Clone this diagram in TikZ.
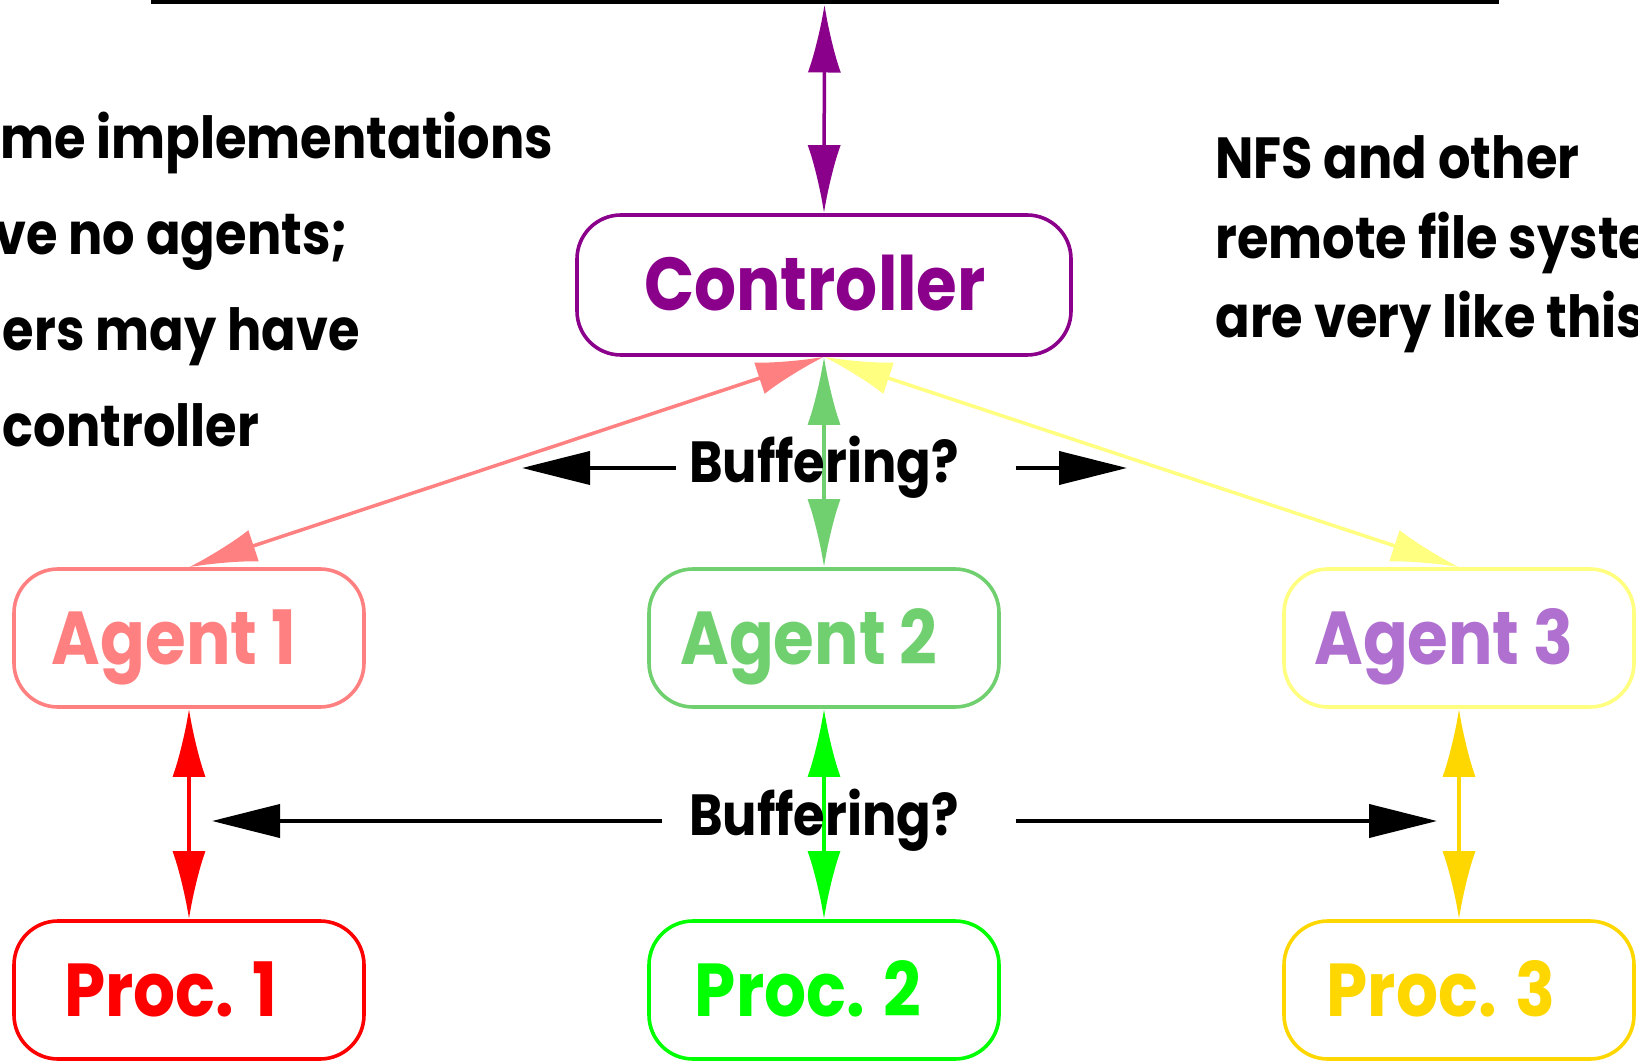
\documentclass[tikz,border=0pt]{standalone}
\usepackage{fontspec}
\setmainfont{Poppins}[FakeStretch=0.88]
\usetikzlibrary{arrows.meta}

\definecolor{ctrlpurple}{RGB}{139,0,139}
\definecolor{agentone}{RGB}{255,128,128}
\definecolor{agenttwo}{RGB}{112,208,112}
\definecolor{agentthreebox}{RGB}{255,255,128}
\definecolor{agentthreetext}{RGB}{176,112,208}
\definecolor{procone}{RGB}{255,0,0}
\definecolor{proctwo}{RGB}{0,255,0}
\definecolor{procthree}{RGB}{255,215,0}

\begin{document}
\begin{tikzpicture}[x=0.5pt,y=-0.5pt,
  labelfont/.style={font=\fontsize{37.5}{40}\selectfont\bfseries},
  sidefont/.style={font=\fontsize{29}{32}\selectfont\bfseries},
  roundbox/.style={draw, rounded corners=22pt, line width=1.8pt,
    minimum width=175pt, minimum height=69pt, inner sep=0pt,
    text height=26pt, text depth=0pt, labelfont},
  ctrlbox/.style={roundbox, minimum width=247pt, minimum height=70pt},
  twoway/.style={line width=1.75pt, {Latex[length=34pt,width=16.5pt]}-{Latex[length=34pt,width=16.5pt]}},
  oneway/.style={line width=1.75pt, -{Latex[length=34pt,width=16.5pt]}},
  blackarrow/.style={line width=2pt, -{Triangle[length=34pt,width=16.5pt]}},
  sidetext/.style={anchor=base west, inner sep=0pt, sidefont},
  buftext/.style={inner sep=0pt, sidefont, anchor=base}
]
\useasboundingbox (0,0) rectangle (1638,1063);

% shared store above the controller
\node[draw, line width=2pt, minimum width=672pt, minimum height=100pt, anchor=south]
  (store) at (824.5,4.5) {};

% controller, agents and processes
\node[ctrlbox, draw=ctrlpurple, text=ctrlpurple] (ctrl) at (824,285) {Controller\kern9pt};

\node[roundbox, draw=agentone, text=agentone]            (a1) at (189,638) {Agent 1\kern15pt};
\node[roundbox, draw=agenttwo, text=agenttwo]            (a2) at (824,638) {Agent 2\kern15pt};
\node[roundbox, draw=agentthreebox, text=agentthreetext] (a3) at (1459,638) {Agent 3\kern15pt};

\node[roundbox, draw=procone, text=procone]     (p1) at (189,990) {Proc. 1\kern18pt};
\node[roundbox, draw=proctwo, text=proctwo]     (p2) at (824,990) {Proc. 2\kern16pt};
\node[roundbox, draw=procthree, text=procthree] (p3) at (1459,990) {Proc. 3\kern18pt};

% links
\draw[twoway, ctrlpurple] (store.south) -- (ctrl.north);
\draw[twoway, agentone]      (ctrl.south) -- (a1.north);
\draw[twoway, agentthreebox] (ctrl.south) -- (a3.north);
\draw[twoway, agenttwo]      (ctrl.south) -- (a2.north);

\draw[twoway, procone]   (a1.south) -- (p1.north);
\draw[twoway, proctwo]   (a2.south) -- (p2.north);
\draw[twoway, procthree] (a3.south) -- (p3.north);

% buffering questions
\node[buftext] (bufup) at (824,482.5) {Buffering?};
\node[buftext] (buflow) at (824,835.5) {Buffering?};

\coordinate (upLtail) at (676,468);
\coordinate (upLtip)  at (522,468);
\coordinate (upRtail) at (1015.5,468);
\coordinate (upRtip)  at (1127,468);
\coordinate (lowLtail) at (662,821);
\coordinate (lowLtip)  at (212,821);
\coordinate (lowRtail) at (1015.5,821);
\coordinate (lowRtip)  at (1437,821);

\draw[blackarrow] (upLtail) -- (upLtip);
\draw[blackarrow] (upRtail) -- (upRtip);
\draw[blackarrow] (lowLtail) -- (lowLtip);
\draw[blackarrow] (lowRtail) -- (lowRtip);

% side notes
\node[sidetext] (noteA) at (0,158.5) {me implementations};
\node[sidetext] (noteB) at (-6,255) {ve no agents;};
\node[sidetext] (noteC) at (2.5,350.5) {ers may have};
\node[sidetext] (noteD) at (2.5,446.5) {controller};

\node[sidetext] (nfsA) at (1215,179) {NFS and other};
\node[sidetext] (nfsB) at (1215,258.5) {remote file syste};
\node[sidetext] (nfsC) at (1215,338) {are very like this};
\end{tikzpicture}
\end{document}
